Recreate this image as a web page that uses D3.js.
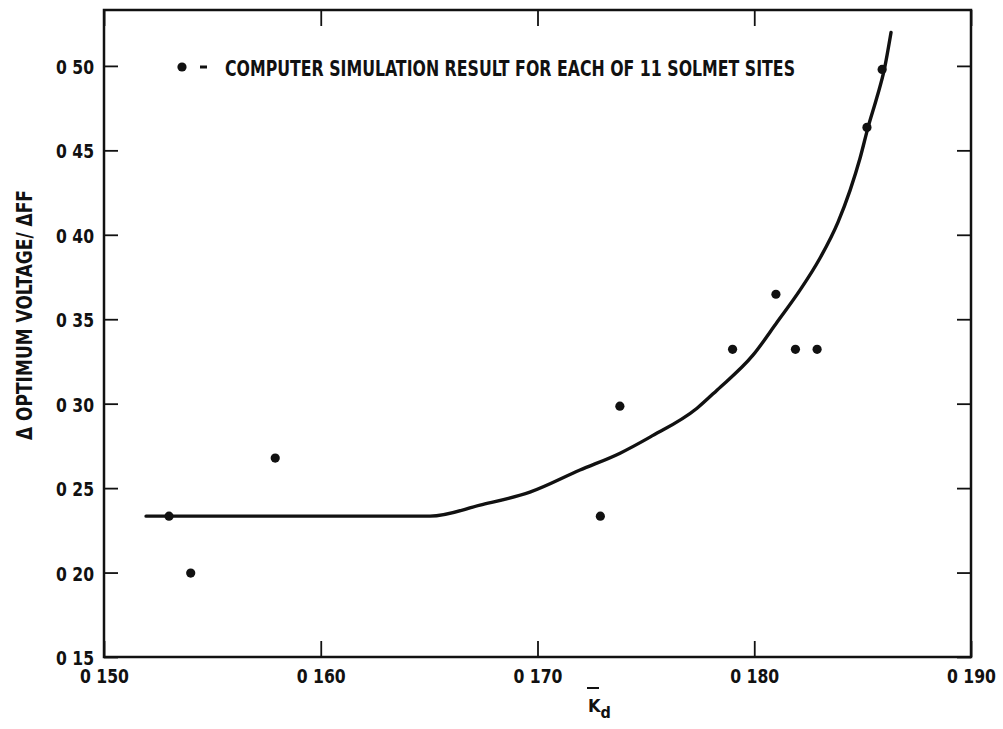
<!DOCTYPE html>
<html>
<head>
<meta charset="utf-8">
<script src="https://cdn.jsdelivr.net/npm/d3@7"></script>
<style>
    body { margin: 0; background: #fff; }
    text { font-family: 'Liberation Sans Narrow', 'DejaVu Sans Condensed', 'Arial Narrow', sans-serif; font-weight: bold; fill: #111; }
</style>
</head>
<body>
<div id="chart"></div>
<script>
// Kd values and simulation results (one per SOLMET site)
var siteKd  = [0.1530, 0.1540, 0.1579, 0.1729, 0.1738, 0.1790, 0.1810, 0.1819, 0.1829, 0.1852, 0.1859];
var siteVal = [0.2334, 0.1997, 0.2678, 0.2334, 0.2985, 0.3322, 0.3648, 0.3322, 0.3322, 0.4636, 0.4979];

// fitted curve
var curveKd  = [0.15194, 0.16504, 0.16735, 0.16965, 0.17196, 0.17381, 0.17519, 0.17736, 0.17828,
                0.17994, 0.18105, 0.18211, 0.18303, 0.18386, 0.18442, 0.18488, 0.18525, 0.18566, 0.18599, 0.18631];
var curveVal = [0.2334, 0.2334, 0.2399, 0.2476, 0.2607, 0.2707, 0.2802, 0.2973, 0.3080,
                0.3287, 0.3482, 0.3672, 0.3861, 0.4074, 0.4263, 0.4453, 0.4636, 0.4814, 0.4973, 0.5198];

var xTicks = [0.150, 0.160, 0.170, 0.180, 0.190];
var yTicks = [0.15, 0.20, 0.25, 0.30, 0.35, 0.40, 0.45, 0.50];

var legendText = "COMPUTER SIMULATION RESULT FOR EACH OF 11 SOLMET SITES";
var yLabel = "\u0394 OPTIMUM VOLTAGE/ \u0394FF";

drawChart();

function drawChart(){
    var width = 1003, height = 729;
    var pLeft = 104, pRight = 971, pTop = 10, pBottom = 657;

    var svg = d3.select("#chart").append("svg")
        .attr("width", width)
        .attr("height", height);

    var x = d3.scaleLinear().domain([0.150, 0.190]).range([pLeft, pRight]);
    var y = d3.scaleLinear().domain([0.15, 0.5331]).range([pBottom, pTop]);

    // decimal point was lost in the original print, "0 50" etc.
    function fmtY(d) { return d3.format(".2f")(d).replace(".", " "); }
    function fmtX(d) { return d3.format(".3f")(d).replace(".", " "); }
    function labelLen(s) { return s.replace(" ", "").length * 11 + 5; }

    // axes, ticks pointing into the plot
    var gLeft = svg.append("g").attr("transform", "translate(" + pLeft + ",0)")
        .call(d3.axisLeft(y).tickValues(yTicks).tickSizeInner(-14).tickSizeOuter(0).tickPadding(10).tickFormat(fmtY));
    var gBottom = svg.append("g").attr("transform", "translate(0," + pBottom + ")")
        .call(d3.axisBottom(x).tickValues(xTicks).tickSizeInner(-16).tickSizeOuter(0).tickPadding(12).tickFormat(fmtX));
    var gRight = svg.append("g").attr("transform", "translate(" + pRight + ",0)")
        .call(d3.axisRight(y).tickValues(yTicks).tickSizeInner(-14).tickSizeOuter(0).tickFormat(""));
    var gTop = svg.append("g").attr("transform", "translate(0," + pTop + ")")
        .call(d3.axisTop(x).tickValues(xTicks).tickSizeInner(-16).tickSizeOuter(0).tickFormat(""));

    [gLeft, gBottom, gRight, gTop].forEach(function(g){
        g.select(".domain").remove();
        g.selectAll(".tick line").attr("stroke", "#111").attr("stroke-width", 1.8);
        g.selectAll(".tick text")
            .style("font-size", "20px")
            .attr("fill", "#111")
            .attr("lengthAdjust", "spacingAndGlyphs")
            .attr("textLength", function(){ return labelLen(this.textContent); });
    });
    gLeft.selectAll(".tick text").attr("dy", "0.38em");

    // frame
    svg.append("rect")
        .attr("x", pLeft).attr("y", pTop)
        .attr("width", pRight - pLeft).attr("height", pBottom - pTop)
        .attr("fill", "none").attr("stroke", "#111").attr("stroke-width", 2.5);

    // fitted curve
    var line = d3.line()
        .x(function(d){ return x(d[0]); })
        .y(function(d){ return y(d[1]); })
        .curve(d3.curveMonotoneX);

    svg.append("path")
        .datum(d3.zip(curveKd, curveVal))
        .attr("d", line)
        .attr("fill", "none")
        .attr("stroke", "#111")
        .attr("stroke-width", 3.4)
        .attr("stroke-linecap", "round");

    // simulation points
    svg.selectAll("circle.site")
        .data(d3.zip(siteKd, siteVal))
        .enter()
        .append("circle")
        .attr("class", "site")
        .attr("cx", function(d){ return x(d[0]); })
        .attr("cy", function(d){ return y(d[1]); })
        .attr("r", 4.6)
        .attr("fill", "#111");

    // legend
    var lg = svg.append("g").attr("transform", "translate(182,67)");
    lg.append("circle").attr("r", 4.6).attr("fill", "#111");
    lg.append("line").attr("x1", 18).attr("x2", 25).attr("y1", 0).attr("y2", 0)
        .attr("stroke", "#111").attr("stroke-width", 3);
    lg.append("text")
        .attr("x", 43).attr("y", 9)
        .style("font-size", "21px")
        .attr("lengthAdjust", "spacingAndGlyphs")
        .attr("textLength", 570)
        .text(legendText);

    // y axis title
    svg.append("text")
        .attr("transform", "translate(32,315) rotate(-90)")
        .attr("text-anchor", "middle")
        .style("font-size", "21px")
        .attr("lengthAdjust", "spacingAndGlyphs")
        .attr("textLength", 250)
        .text(yLabel);

    // x axis title: K bar with subscript d
    var xt = svg.append("text")
        .attr("x", 588).attr("y", 712)
        .style("font-size", "18px");
    xt.append("tspan").text("K");
    xt.append("tspan").attr("dy", 6).style("font-size", "16px").text("d");
    svg.append("line")
        .attr("x1", 587).attr("x2", 599).attr("y1", 688).attr("y2", 688)
        .attr("stroke", "#111").attr("stroke-width", 2);
}
</script>
</body>
</html>
